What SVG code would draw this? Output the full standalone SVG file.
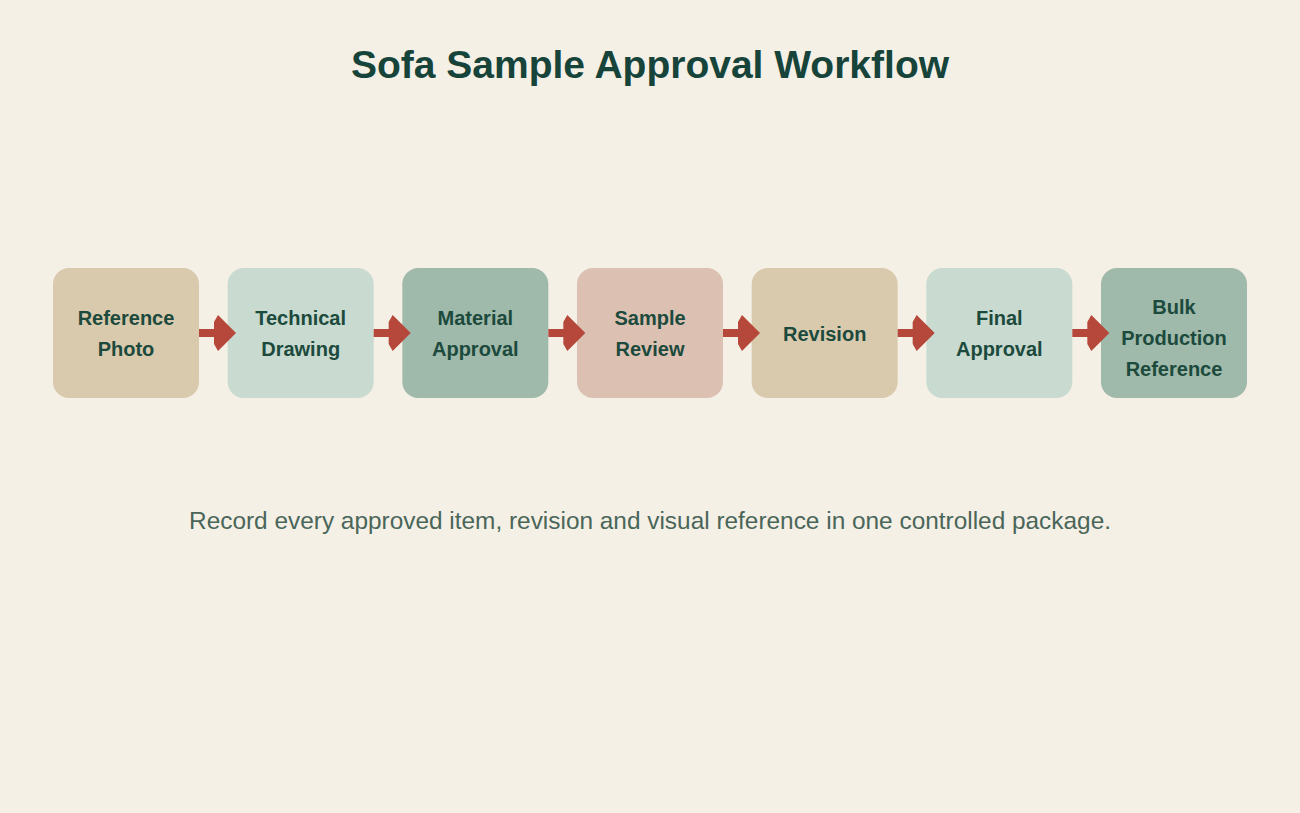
<svg xmlns="http://www.w3.org/2000/svg" width="1300" height="813" viewBox="0 0 1300 813">
<defs>
<style>
.bg{fill:#F5F0E6}
.box{rx:16;ry:16}
.tan{fill:#D9C9AD}
.lg{fill:#C9DAD0}
.dg{fill:#9FB9AA}
.pk{fill:#DCC1B3}
.lbl{font-family:"Liberation Sans",Arial,sans-serif;font-weight:bold;font-size:20px;fill:#1C4A3C;text-anchor:middle}
.title{font-family:"Liberation Sans",Arial,sans-serif;font-weight:bold;font-size:39px;fill:#17443A;text-anchor:middle}
.sub{font-family:"Liberation Sans",Arial,sans-serif;font-size:24.4px;fill:#4A6659;text-anchor:middle}
.arr{fill:#B5483A}
</style>
<path id="arrowshape" d="M0,-4 H15 V-11 L19,-18 L37,0 L19,18 L15,11 V4 H0 Z"/>
</defs>
<rect class="bg" x="0" y="0" width="1300" height="813"/>
<text class="title" x="650" y="78">Sofa Sample Approval Workflow</text>
<g id="node1"><rect class="box tan" x="53" y="268" width="146" height="130"/><text class="lbl" x="126" y="325">Reference</text><text class="lbl" x="126" y="356">Photo</text></g>
<g id="node2"><rect class="box lg" x="227.67" y="268" width="146" height="130"/><text class="lbl" x="300.67" y="325">Technical</text><text class="lbl" x="300.67" y="356">Drawing</text></g>
<g id="node3"><rect class="box dg" x="402.33" y="268" width="146" height="130"/><text class="lbl" x="475.33" y="325">Material</text><text class="lbl" x="475.33" y="356">Approval</text></g>
<g id="node4"><rect class="box pk" x="577" y="268" width="146" height="130"/><text class="lbl" x="650" y="325">Sample</text><text class="lbl" x="650" y="356">Review</text></g>
<g id="node5"><rect class="box tan" x="751.67" y="268" width="146" height="130"/><text class="lbl" x="824.67" y="341">Revision</text></g>
<g id="node6"><rect class="box lg" x="926.33" y="268" width="146" height="130"/><text class="lbl" x="999.33" y="325">Final</text><text class="lbl" x="999.33" y="356">Approval</text></g>
<g id="node7"><rect class="box dg" x="1101" y="268" width="146" height="130"/><text class="lbl" x="1174" y="314">Bulk</text><text class="lbl" x="1174" y="345">Production</text><text class="lbl" x="1174" y="376">Reference</text></g>
<g id="connectors" class="arr">
<use href="#arrowshape" transform="translate(199,333)"/>
<use href="#arrowshape" transform="translate(373.67,333)"/>
<use href="#arrowshape" transform="translate(548.33,333)"/>
<use href="#arrowshape" transform="translate(723,333)"/>
<use href="#arrowshape" transform="translate(897.67,333)"/>
<use href="#arrowshape" transform="translate(1072.33,333)"/>
</g>
<text class="sub" x="650" y="529">Record every approved item, revision and visual reference in one controlled package.</text>
</svg>
